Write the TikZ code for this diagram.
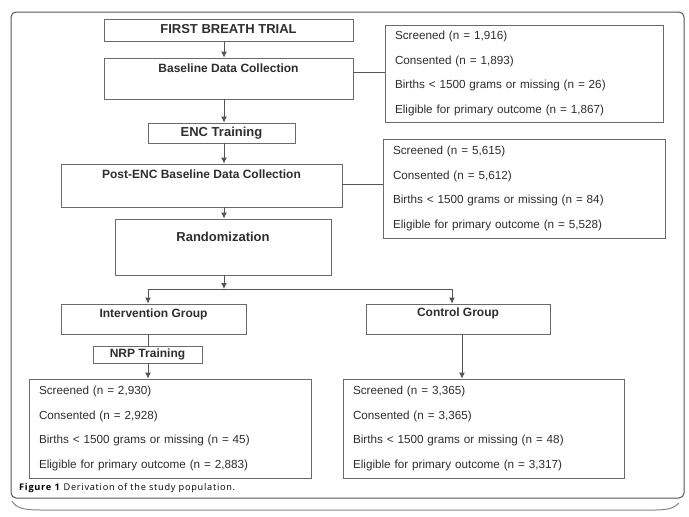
\documentclass[tikz,border=0pt]{standalone}
\usepackage{fontspec}
\setmainfont{Liberation Sans}
\newfontfamily\capfont[LetterSpace=8]{Open Sans}
\usetikzlibrary{arrows.meta,calc}
\definecolor{boxline}{HTML}{6A6A6A}
\definecolor{txt}{HTML}{2E2E2E}
\definecolor{frame}{HTML}{555555}
\begin{document}
\begin{tikzpicture}[x=1pt,y=-1pt,
  box/.style={draw=boxline, line width=0.8pt, inner sep=0pt},
  ttl/.style={font=\bfseries\fontsize{12}{14}\selectfont, text=txt, inner sep=0pt},
  bigttl/.style={font=\bfseries\fontsize{13}{15}\selectfont, text=txt, inner sep=0pt},
  databox/.style={draw=boxline, line width=0.8pt, align=left, inner xsep=10pt, inner ysep=0pt,
    font=\fontsize{11.7}{24.6}\selectfont, text=txt},
  arr/.style={draw=frame, line width=0.9pt, -{Latex[length=6pt,width=6pt]}},
  ln/.style={draw=frame, line width=0.9pt}]
\useasboundingbox (0,0) rectangle (689,517);
\fill[white] (0,0) rectangle (689,517);
% frame
\draw[frame, line width=1pt, rounded corners=5pt] (11,12) rectangle (684,498);
\draw[frame!70, line width=1pt] (12,501) .. controls (16,508) and (24,510) .. (40,510)
  -- (655,510) .. controls (668,510) and (674,508) .. (679,503);
% spine coordinates
\coordinate (spine) at (224,0);
% title boxes
\node[box, minimum width=249pt, minimum height=22pt] (trial) at (228.5,30) {};
\node[bigttl] (trialt) at (228.5,29.5) {FIRST BREATH TRIAL};
\node[box, minimum width=249pt, minimum height=41pt] (base) at (228.5,78.5) {};
\node[ttl] (baset) at (228.5,68) {Baseline Data Collection};
\node[box, minimum width=147pt, minimum height=20pt] (enc) at (221.5,133) {};
\node[bigttl] (enct) at (221.5,133) {ENC Training};
\node[box, minimum width=281pt, minimum height=43pt] (post) at (201.5,185.5) {};
\node[ttl] (postt) at (201.5,174) {Post-ENC Baseline Data Collection};
\node[box, minimum width=216pt, minimum height=56pt] (rand) at (223,247) {};
\node[bigttl] (randt) at (223,236.5) {Randomization};
\node[box, minimum width=185pt, minimum height=30pt] (interv) at (153.5,319) {};
\node[ttl] (intervt) at (153.5,314) {Intervention Group};
\node[box, minimum width=184pt, minimum height=30pt] (control) at (458,319) {};
\node[ttl] (controlt) at (458,313.5) {Control Group};
\node[box, minimum width=109pt, minimum height=17pt] (nrp) at (147.5,354.5) {};
\node[ttl] (nrpt) at (147.5,354.5) {NRP Training};
% data boxes
\node[databox, text width=258pt, minimum height=97pt] (d1) at (524,73.5)
  {Screened (n = 1,916)\\Consented (n = 1,893)\\Births < 1500 grams or missing (n = 26)\\Eligible for primary outcome (n = 1,867)};
\node[databox, text width=262pt, minimum height=99pt] (d2) at (524,188.5)
  {Screened (n = 5,615)\\Consented (n = 5,612)\\Births < 1500 grams or missing (n = 84)\\Eligible for primary outcome (n = 5,528)};
\node[databox, text width=262pt, minimum height=99pt] (d3) at (170,428.5)
  {Screened (n = 2,930)\\Consented (n = 2,928)\\Births < 1500 grams or missing (n = 45)\\Eligible for primary outcome (n = 2,883)};
\node[databox, text width=261pt, minimum height=99pt] (d4) at (483.5,428.5)
  {Screened (n = 3,365)\\Consented (n = 3,365)\\Births < 1500 grams or missing (n = 48)\\Eligible for primary outcome (n = 3,317)};
% connectors
\draw[arr] (trial.south -| spine) -- (base.north -| spine);
\draw[arr] (base.south -| spine) -- (enc.north -| spine);
\draw[arr] (enc.south -| spine) -- (post.north -| spine);
\draw[arr] (post.south -| spine) -- (rand.north -| spine);
\coordinate (j) at (224,289);
\coordinate (jl) at (148,289);
\coordinate (jr) at (452,289);
\coordinate (cx) at (462,0);
\draw[arr] (rand.south -| spine) -- (j);
\draw[ln] (jl) -- (jr);
\draw[arr] (jl) -- (interv.north -| jl);
\draw[arr] (jr) -- (control.north -| jr);
\draw[ln] (interv.south -| jl) -- (nrp.north -| jl);
\draw[arr] (nrp.south -| jl) -- (d3.north -| jl);
\draw[arr] (control.south -| cx) -- (d4.north -| cx);
\coordinate (c1) at (0,72);
\coordinate (c2) at (0,184);
\draw[ln] (base.east |- c1) -- (d1.west |- c1);
\draw[ln] (post.east |- c2) -- (d2.west |- c2);
% caption
\node[anchor=west, inner sep=0pt, font=\capfont\fontsize{9.2}{11}\selectfont, text=black] (cap) at (19,488)
  {\textbf{Figure 1} Derivation of the study population.};
\end{tikzpicture}
\end{document}
